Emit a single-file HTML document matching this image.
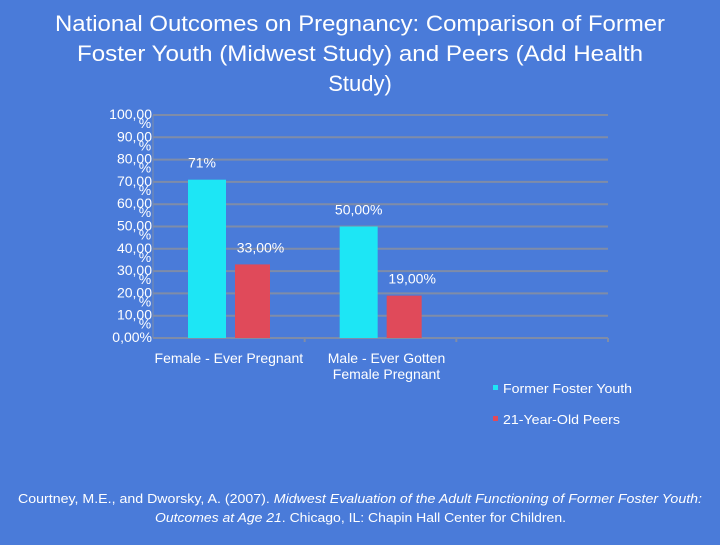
<!DOCTYPE html>
<html><head><meta charset="utf-8"><style>
body{margin:0;width:720px;height:540px;background:#4a7bd9;overflow:hidden;font-family:"Liberation Sans",sans-serif;color:#fff}
svg text{font-family:"Liberation Sans",sans-serif;fill:#fff}
</style></head><body>
<svg width="720" height="540">
<text x="55" y="31" font-size="22" textLength="610" lengthAdjust="spacingAndGlyphs">National Outcomes on Pregnancy: Comparison of Former</text>
<text x="77" y="61" font-size="22" textLength="566" lengthAdjust="spacingAndGlyphs">Foster Youth (Midwest Study) and Peers (Add Health</text>
<text x="360" y="91" font-size="22" text-anchor="middle">Study)</text>
<g id="plot"></g>
<rect x="493" y="385" width="5" height="5" fill="#1de6f5"/>
<text x="503" y="393" font-size="13" textLength="129" lengthAdjust="spacingAndGlyphs">Former Foster Youth</text>
<rect x="493" y="416" width="5" height="5" fill="#e04a5a"/>
<text x="503" y="424" font-size="13" textLength="117" lengthAdjust="spacingAndGlyphs">21-Year-Old Peers</text>
<text x="18" y="503" font-size="13" textLength="684" lengthAdjust="spacingAndGlyphs">Courtney, M.E., and Dworsky, A. (2007).  <tspan font-style="italic">Midwest Evaluation of the Adult Functioning of Former Foster Youth:</tspan></text>
<text x="155" y="522" font-size="13" textLength="411" lengthAdjust="spacingAndGlyphs"><tspan font-style="italic">Outcomes at Age 21</tspan>. Chicago, IL: Chapin Hall Center for Children.</text>
</svg>
<script>
const categories=[["Female - Ever Pregnant"],["Male - Ever Gotten","Female Pregnant"],[""]];
const fosterValues=[71,50,null];
const peerValues=[33,19,null];
const fosterLabels=["71%","50,00%",""];
const peerLabels=["33,00%","19,00%",""];
const yTicks=[0,10,20,30,40,50,60,70,80,90,100];
const NS="http://www.w3.org/2000/svg";
const g=document.getElementById('plot');
const x0=153,x1=608,yTop=115,yBot=338;
const cw=(x1-x0)/categories.length;
const y=v=>yBot-(v/100)*(yBot-yTop);
function el(t,a){const e=document.createElementNS(NS,t);for(const k in a)e.setAttribute(k,a[k]);g.appendChild(e);return e;}
yTicks.forEach(t=>{
 const l=el('line',{x1:x0,x2:x1,y1:y(t),y2:y(t),stroke:'#7f8ca8','stroke-width':2});
 
 
 const tx=el('text',{x:152,y:y(t)+4,'font-size':14,'text-anchor':'end'});
 tx.textContent=t===0?'0,00%':t+',00';
 
 
 if(t!==0){const p=el('text',{x:145,y:y(t)+13,'font-size':14,'text-anchor':'middle'});p.textContent='%';
 
 }
});
const ax=el('line',{x1:x0,x2:x0,y1:yTop,y2:yBot,stroke:'#7f8ca8','stroke-width':1});


for(let i=1;i<=categories.length;i++){const tk=el('line',{x1:x0+cw*i,x2:x0+cw*i,y1:yBot,y2:yBot+4,stroke:'#7f8ca8','stroke-width':2});
 
 }
categories.forEach((c,i)=>{
 const cx=x0+cw*i;
 c.forEach((line,j)=>{const t=el('text',{x:cx+cw/2+(i===1?6:0),y:363+j*16,'font-size':14,'text-anchor':'middle'});t.textContent=line;
 
 });
 [[fosterValues,fosterLabels,35,38,'#1de6f5','foster'],[peerValues,peerLabels,82,35,'#e04a5a','peers']].forEach(([vals,labs,off,w,col,n])=>{
  const v=vals[i]; if(v==null)return;
  const r=el('rect',{x:cx+off,y:y(v),width:w,height:yBot-y(v),fill:col});
  
  
  const t=el('text',{x:cx+off+w/2+(n==='foster'?(i===0?-5:0):8),y:y(v)-12,'font-size':14,'text-anchor':'middle'});t.textContent=labs[i];
  
  
 });
});
</script>
</body></html>
